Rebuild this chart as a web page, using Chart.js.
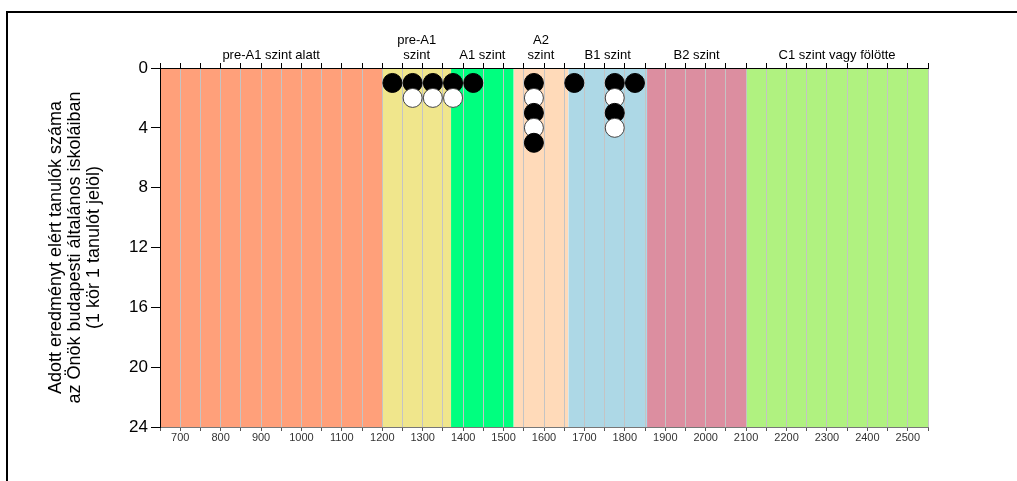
<!DOCTYPE html>
<html>
<head>
<meta charset="utf-8">
<script src="https://cdn.jsdelivr.net/npm/chart.js@4.4.1/dist/chart.umd.min.js"></script>
<style>
  html, body { margin: 0; padding: 0; background: #fff; overflow: hidden; }
  #frame { position: absolute; left: 6px; top: 11px; width: 2000px; height: 1000px;
           border-top: 2px solid #000; border-left: 2px solid #000; }
  #wrap { position: absolute; left: 0; top: 0; width: 1017px; height: 481px; }
</style>
</head>
<body>
<div id="frame"></div>
<div id="wrap"><canvas id="chart"></canvas></div>
<script>
// level bands (score ranges)
const levelLabels = ["pre-A1 szint alatt", ["pre-A1", "szint"], "A1 szint", ["A2", "szint"],
  "B1 szint", "B2 szint", "C1 szint vagy fölötte"];
const levelFrom = [650, 1200, 1370, 1525, 1660, 1855, 2100];
const levelTo = [1200, 1370, 1525, 1660, 1855, 2100, 2550];
const levelColors = ["#FFA07A", "#F0E68C", "#00FF7F", "#FFDAB9", "#ADD8E6", "#DC8EA0", "#B0F280"];

// one circle per student: score and position in the stack
// (odd stack positions are black, even ones white)
const studentScores = [1225, 1275, 1325, 1375, 1425, 1575, 1675, 1775, 1825,
  1275, 1325, 1375, 1575, 1775,
  1575, 1775,
  1575, 1775,
  1575];
const studentRows = [1, 1, 1, 1, 1, 1, 1, 1, 1,
  2, 2, 2, 2, 2,
  3, 3,
  4, 4,
  5];

const yTicks = [0, 4, 8, 12, 16, 20, 24];
const yTitle = ["Adott eredményt elért tanulók száma",
  "az Önök budapesti általános iskoláiban",
  "(1 kör 1 tanulót jelöl)"];

const xMin = 650, xMax = 2550;
const font = "Liberation Sans, Arial, sans-serif";

const bandSets = levelFrom.map((from, i) => ({
  type: "line",
  data: [{ x: from, y: yTicks[yTicks.length - 1] }, { x: levelTo[i], y: yTicks[yTicks.length - 1] }],
  showLine: true,
  fill: { value: 0 },
  backgroundColor: levelColors[i],
  borderColor: "transparent",
  borderWidth: 0,
  pointRadius: 0,
  tension: 0,
  order: 100,
}));

// one dataset per stack row so higher rows are drawn over lower ones
const rows = [...new Set(studentRows)];
const circleSets = rows.map((r) => ({
  data: studentScores
    .map((s, i) => ({ x: s, y: studentRows[i] }))
    .filter((p) => p.y === r),
  pointRadius: 9.5,
  pointBorderWidth: 1,
  backgroundColor: r % 2 === 1 ? "#000" : "#fff",
  borderColor: r % 2 === 1 ? "#000" : "#444",
  order: 50 - r,
}));

const centers = levelFrom.map((f, i) => (f + levelTo[i]) / 2);

new Chart(document.getElementById("chart"), {
  type: "scatter",
  data: { datasets: [...bandSets, ...circleSets] },
  options: {
    responsive: true,
    maintainAspectRatio: false,
    animation: false,
    events: [],
    layout: { padding: { left: 0, top: 20, right: 89, bottom: 24 } },
    plugins: {
      legend: { display: false },
      tooltip: { enabled: false },
      filler: { drawTime: "beforeDraw" },
    },
    scales: {
      x: {
        type: "linear",
        position: "bottom",
        min: xMin,
        max: xMax,
        ticks: {
          stepSize: 50,
          autoSkip: false,
          maxRotation: 0,
          padding: 1,
          color: "#333",
          font: { family: font, size: 11, lineHeight: 1 },
          callback: (v) => (v % 100 === 0 ? v : ""),
        },
        grid: { color: "#c4c4c4", tickColor: "#555", tickLength: 4 },
        border: { color: "#777", width: 1 },
        afterFit: (s) => { s.height = 30; },
      },
      xTop: {
        type: "linear",
        position: "top",
        min: xMin,
        max: xMax,
        weight: 1,
        ticks: { stepSize: 50, display: false },
        grid: { drawOnChartArea: false, tickColor: "#000", tickLength: 5 },
        border: { color: "#000", width: 1 },
        afterFit: (s) => { s.height = 5; },
      },
      xLabels: {
        type: "linear",
        position: "top",
        min: xMin,
        max: xMax,
        weight: 2,
        afterBuildTicks: (s) => { s.ticks = centers.map((v) => ({ value: v })); },
        ticks: {
          autoSkip: false,
          maxRotation: 0,
          padding: 0,
          color: "#000",
          font: { family: font, size: 13, lineHeight: 1.15 },
          callback: (v, i) => levelLabels[i],
        },
        grid: { display: false, drawTicks: false },
        border: { display: false },
        afterFit: (s) => { s.height = 43; },
      },
      y: {
        type: "linear",
        position: "left",
        reverse: true,
        min: yTicks[0],
        max: yTicks[yTicks.length - 1],
        afterBuildTicks: (s) => { s.ticks = yTicks.map((v) => ({ value: v })); },
        ticks: {
          padding: 3,
          color: "#000",
          font: { family: font, size: 17 },
        },
        grid: { drawOnChartArea: false, tickColor: "#000", tickLength: 9 },
        border: { color: "#000", width: 1 },
        title: {
          display: true,
          text: yTitle,
          color: "#000",
          font: { family: font, size: 18, lineHeight: 1.06 },
          padding: { top: 46, bottom: 0 },
        },
        afterFit: (s) => { s.width = 160; },
      },
    },
  },
});
</script>
</body>
</html>
